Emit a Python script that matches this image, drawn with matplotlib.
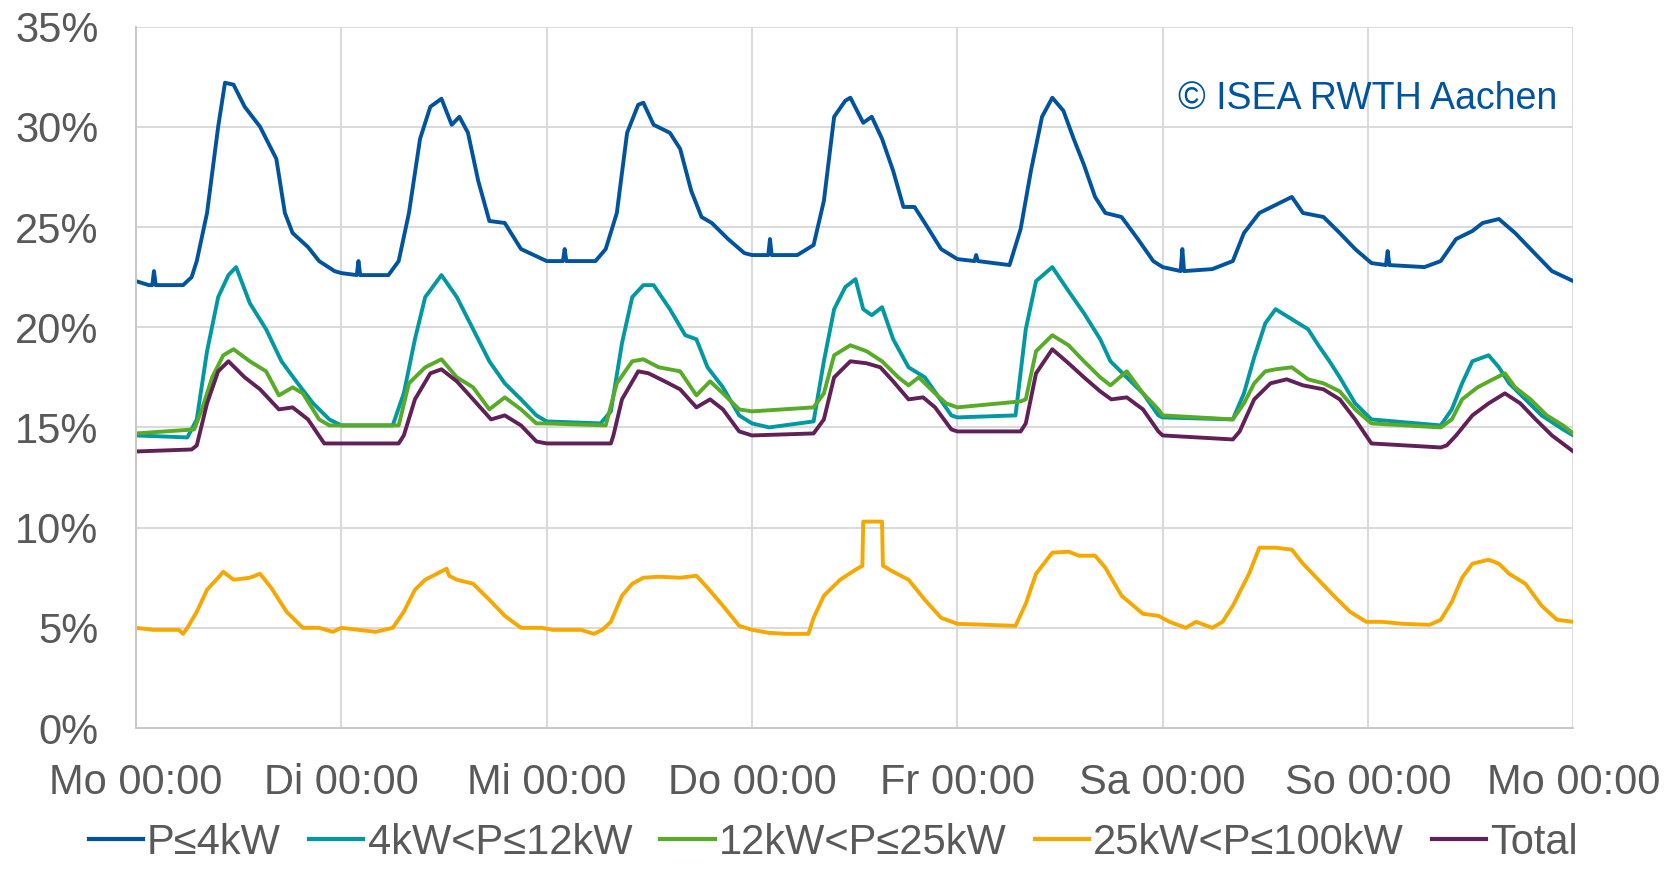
import matplotlib
matplotlib.use('Agg')
import matplotlib.pyplot as plt
import matplotlib.ticker as tick

plt.rcParams['font.family'] = ['Liberation Sans', 'DejaVu Sans']

color_blue = '#00549f'
color_teal = '#0098a1'
color_green = '#57ab27'
color_orange = '#f6a800'
color_purple = '#612158'
color_text = '#595959'
color_grid = '#d9d9d9'

day_labels = ['Mo 00:00', 'Di 00:00', 'Mi 00:00', 'Do 00:00', 'Fr 00:00', 'Sa 00:00', 'So 00:00', 'Mo 00:00']
series_names = ['P≤4kW', '4kW<P≤12kW', '12kW<P≤25kW', '25kW<P≤100kW', 'Total']

# hours since Monday 00:00, share in percent
p4_hours = [0, 1.5, 1.9, 2.1, 2.3, 5.5, 6.5, 7.1, 8.3, 9.6, 10.4, 11.4, 12.7, 14.5, 16.4, 17.4, 18.3, 20.1, 21.4, 23.2, 24,
            25.8, 26.0, 26.2, 29.5, 30.7, 31.9, 33.2, 34.4, 35.7, 36.9, 37.8, 38.8, 40.0, 41.3, 43.1, 45.0, 47.5, 48,
            49.9, 50.1, 50.3, 53.7, 54.9, 56.2, 57.4, 58.7, 59.3, 60.5, 62.4, 63.6, 64.9, 66.1, 67.3, 69.2, 71.1, 72,
            73.9, 74.1, 74.3, 77.3, 79.2, 80.4, 81.6, 82.9, 83.5, 85.0, 86.0, 87.2, 88.5, 89.7, 91.0, 92.2, 94.1, 96,
            98.0, 98.2, 98.4, 102.1, 103.4, 104.6, 105.9, 107.1, 108.4, 109.6, 110.8, 112.1, 113.3, 115.2, 117.1, 118.9, 120,
            122.1, 122.3, 122.5, 125.8, 128.2, 129.5, 131.3, 133.2, 135.1, 136.4, 138.8, 140.7, 142.5, 144.4,
            146.1, 146.3, 146.5, 150.6, 152.5, 154.3, 156.2, 157.4, 159.3, 161.2, 163.0, 165.5, 168]
p4_values = [22.3, 22.1, 22.1, 22.8, 22.1, 22.1, 22.5, 23.3, 25.7, 30.0, 32.2, 32.1, 31.0, 30.0, 28.4, 25.7, 24.7, 24.0, 23.3, 22.8, 22.7,
             22.6, 23.3, 22.6, 22.6, 23.3, 25.7, 29.4, 31.0, 31.4, 30.1, 30.5, 29.7, 27.3, 25.3, 25.2, 23.9, 23.4, 23.3,
             23.3, 23.9, 23.3, 23.3, 23.9, 25.7, 29.7, 31.1, 31.2, 30.1, 29.7, 28.9, 26.8, 25.5, 25.2, 24.4, 23.7, 23.6,
             23.6, 24.4, 23.6, 23.6, 24.1, 26.3, 30.5, 31.3, 31.45, 30.2, 30.5, 29.4, 27.8, 26.0, 26.0, 25.2, 23.9, 23.4,
             23.3, 23.6, 23.3, 23.1, 24.9, 27.8, 30.5, 31.45, 30.8, 29.4, 28.1, 26.5, 25.7, 25.5, 24.4, 23.3, 23.0,
             22.8, 23.9, 22.8, 22.9, 23.3, 24.7, 25.7, 26.1, 26.5, 25.7, 25.5, 24.7, 23.9, 23.2,
             23.1, 23.8, 23.1, 23.0, 23.3, 24.4, 24.8, 25.2, 25.4, 24.7, 23.9, 22.8, 22.3]

p12_hours = [0, 6, 7.1, 8.3, 9.6, 10.8, 11.7, 13.3, 15.2, 17, 18.9, 20.7, 22.6, 24,
             30, 31.3, 32.6, 33.8, 35.7, 37.5, 39.4, 41.3, 43.1, 45, 46.8, 48,
             54.3, 55.5, 56.8, 58, 59.3, 60.5, 62.4, 64.2, 65.5, 66.8, 68.6, 70.5, 72,
             74, 79.2, 80.4, 81.6, 82.9, 84.1, 85, 86, 87.2, 88.5, 90.3, 92.2, 94, 95.3, 96,
             102.8, 104, 105.2, 107.1, 109, 110.8, 112.7, 113.9, 115.8, 117.7, 119.5, 120,
             128.2, 129.5, 130.7, 132, 133.2, 135.1, 137, 138.2, 139.5, 140.7, 142.5, 144.4,
             152.5, 153.8, 155, 156.2, 158.1, 159.3, 160.5, 162.4, 164.3, 166.8, 168]
p12_values = [14.6, 14.5, 15.4, 18.8, 21.5, 22.6, 23.0, 21.2, 19.9, 18.3, 17.2, 16.2, 15.4, 15.1,
              15.1, 16.7, 19.4, 21.5, 22.6, 21.5, 19.9, 18.3, 17.2, 16.4, 15.6, 15.3,
              15.2, 15.8, 19.2, 21.5, 22.1, 22.1, 20.9, 19.6, 19.4, 18.0, 17.0, 15.6, 15.2,
              15.0, 15.3, 18.3, 20.9, 22.0, 22.4, 20.9, 20.6, 21.0, 19.4, 18.0, 17.5, 16.4, 15.6, 15.5,
              15.6, 19.9, 22.3, 23.0, 21.8, 20.7, 19.4, 18.3, 17.5, 16.7, 15.6, 15.5,
              15.4, 16.7, 18.5, 20.2, 20.9, 20.4, 19.9, 19.1, 18.3, 17.5, 16.2, 15.4,
              15.1, 15.9, 17.2, 18.3, 18.6, 18.0, 17.2, 16.4, 15.6, 14.9, 14.6]

p25_hours = [0, 6.8, 7.7, 8.9, 10.2, 11.4, 13.3, 15.2, 16.7, 18.3, 19.5, 21.4, 22.6, 24,
             30.7, 31.9, 33.8, 35.7, 37.5, 39.4, 41.3, 43.1, 45, 46.8, 48,
             54.9, 56.2, 58, 59.3, 61.1, 63.6, 65.5, 67.1, 68.6, 70.5, 72,
             79.2, 80.4, 81.6, 83.5, 85.4, 87.2, 89.1, 90.3, 91.5, 93.4, 94.7, 96,
             103.4, 104, 105.2, 107.1, 109, 110.8, 112.7, 113.9, 115.8, 117.7, 119.5, 120,
             128.2, 129.5, 130.7, 132, 133.2, 135.1, 137, 138.8, 140.7, 142.5, 144.4,
             152.5, 153.8, 155, 156.8, 158.6, 160, 161.2, 163, 164.9, 166.8, 168]
p25_values = [14.7, 14.9, 15.9, 17.5, 18.6, 18.9, 18.3, 17.8, 16.6, 17.0, 16.7, 15.4, 15.1, 15.1,
              15.1, 17.2, 18.0, 18.4, 17.5, 17.0, 15.9, 16.5, 15.9, 15.2, 15.2,
              15.1, 17.2, 18.3, 18.4, 18.0, 17.8, 16.6, 17.3, 16.7, 15.9, 15.8,
              16.0, 16.7, 18.6, 19.1, 18.8, 18.3, 17.5, 17.1, 17.5, 16.7, 16.2, 16.0,
              16.3, 16.4, 18.8, 19.6, 19.1, 18.3, 17.5, 17.1, 17.8, 16.7, 15.9, 15.6,
              15.4, 16.2, 17.2, 17.8, 17.9, 18.0, 17.4, 17.2, 16.8, 15.9, 15.2,
              15.0, 15.4, 16.4, 17.0, 17.4, 17.7, 17.0, 16.4, 15.6, 15.1, 14.7]

p100_hours = [0, 2, 5, 5.5, 6, 7.1, 8.3, 9.6, 10.2, 11.4, 13.3, 14.5, 15.8, 17.6, 19.5, 21.4, 23, 24,
              26, 28, 30, 31.3, 32.6, 33.8, 36.3, 36.6, 37.5, 39.4, 41.3, 43.1, 45, 47.5, 48.7,
              50, 52, 53.5, 54.5, 55.5, 56.8, 58, 59.3, 61.1, 63.6, 65.5, 66.8, 68.6, 70.5, 72,
              74, 76, 78.6, 79.2, 80.4, 82.3, 84.1, 84.9, 85.0, 86.0, 87.2, 87.3, 88.5, 90.3, 92.2, 94.1, 96,
              102.8, 104, 105.2, 107.1, 109, 110.2, 112.1, 113.3, 115.2, 117.7, 119.5, 120.8, 122.7, 123.9, 125.8, 127,
              128.2, 130.1, 131.3, 133.2, 135.1, 136.4, 138.2, 140, 141.9, 143.8, 145.6, 148.1, 151.2,
              152.5, 153.8, 155, 156.2, 158.1, 159.3, 160.5, 162.4, 164.3, 166.1, 168]
p100_values = [5.0, 4.9, 4.9, 4.7, 5.0, 5.8, 6.9, 7.5, 7.8, 7.4, 7.5, 7.7, 7.0, 5.8, 5.0, 5.0, 4.8, 5.0,
               4.9, 4.8, 5.0, 5.8, 6.9, 7.4, 7.95, 7.6, 7.4, 7.2, 6.4, 5.6, 5.0, 5.0, 4.9,
               4.9, 4.9, 4.7, 4.9, 5.3, 6.6, 7.2, 7.5, 7.55, 7.5, 7.6, 7.0, 6.1, 5.1, 4.9,
               4.75, 4.7, 4.7, 5.5, 6.6, 7.4, 7.9, 8.1, 10.3, 10.3, 10.3, 8.1, 7.8, 7.4, 6.4, 5.5, 5.2,
               5.1, 6.2, 7.7, 8.75, 8.8, 8.6, 8.6, 8.0, 6.6, 5.7, 5.6, 5.3, 5.0, 5.3, 5.0, 5.3,
               6.1, 7.7, 9.0, 9.0, 8.9, 8.2, 7.4, 6.6, 5.8, 5.3, 5.3, 5.2, 5.15,
               5.4, 6.3, 7.5, 8.2, 8.4, 8.2, 7.7, 7.2, 6.1, 5.4, 5.3]

total_hours = [0, 6.5, 7.1, 8.3, 9.6, 10.8, 12.7, 14.5, 16.7, 18.3, 20.1, 22, 24,
               30.7, 31.3, 32.6, 34.4, 35.7, 37.5, 39.4, 41.5, 43.1, 45, 46.8, 48,
               55.5, 55.8, 56.8, 58.7, 59.9, 61.8, 63.6, 65.5, 67.1, 68.6, 70.5, 72,
               79.2, 80.4, 81.6, 83.5, 85.4, 87, 88.5, 90.3, 92, 93.4, 95.3, 96,
               103.4, 104, 105.2, 107.1, 109, 110.8, 112.7, 114, 115.8, 117.7, 119.5, 120,
               128.2, 129, 130.7, 132.6, 134.5, 136.4, 138.8, 140.7, 142.5, 144.4,
               152.5, 153.2, 154.3, 156.2, 158.1, 160, 161.8, 163.6, 165.5, 168]
total_values = [13.8, 13.9, 14.1, 16.2, 17.8, 18.3, 17.5, 16.9, 15.9, 16.0, 15.4, 14.2, 14.2,
                14.2, 14.6, 16.4, 17.7, 17.9, 17.3, 16.4, 15.4, 15.6, 15.1, 14.3, 14.2,
                14.2, 14.6, 16.4, 17.8, 17.7, 17.3, 16.9, 16.0, 16.4, 15.9, 14.8, 14.6,
                14.7, 15.4, 17.5, 18.3, 18.2, 18.0, 17.3, 16.4, 16.5, 16.0, 14.9, 14.8,
                14.8, 15.2, 17.7, 18.9, 18.2, 17.5, 16.8, 16.4, 16.5, 15.9, 14.8, 14.6,
                14.4, 14.8, 16.4, 17.2, 17.4, 17.1, 16.9, 16.4, 15.4, 14.2,
                14.0, 14.1, 14.6, 15.6, 16.2, 16.7, 16.2, 15.4, 14.6, 13.8]

fig = plt.figure(figsize=(16.67, 8.69), dpi=100)
ax = fig.add_axes([0.0816, 0.1622, 0.8622, 0.8072])

lw = 2.8
ax.plot(p4_hours, p4_values, color=color_blue, lw=lw, label=series_names[0])
ax.plot(p12_hours, p12_values, color=color_teal, lw=lw, label=series_names[1])
ax.plot(p25_hours, p25_values, color=color_green, lw=lw, label=series_names[2])
ax.plot(p100_hours, p100_values, color=color_orange, lw=lw, label=series_names[3])
ax.plot(total_hours, total_values, color=color_purple, lw=lw, label=series_names[4])

ax.set_xlim(0, 168)
ax.set_ylim(0, 35)
ax.set_xticks(range(0, 169, 24))
ax.set_xticklabels(day_labels)
ax.set_yticks(range(0, 36, 5))
ax.yaxis.set_major_formatter(tick.FuncFormatter(lambda v, pos: '{:.0f}%'.format(v)))
ax.grid(True, color=color_grid, lw=1.4)
ax.set_axisbelow(True)
for side in ['top', 'right']:
    ax.spines[side].set_visible(False)
for side in ['left', 'bottom']:
    ax.spines[side].set_color('#c8c8c8')
    ax.spines[side].set_linewidth(1.4)
ax.tick_params(axis='both', length=0, labelsize=30, labelcolor=color_text)
ax.tick_params(axis='x', pad=25)
ax.tick_params(axis='y', pad=27)

ax.text(0.989, 0.897, '© ISEA RWTH Aachen', transform=ax.transAxes, ha='right', va='center',
        fontsize=27, color=color_blue)

fig.legend(loc='lower center', bbox_to_anchor=(0.5, -0.012), ncol=5, frameon=False,
           fontsize=30, labelcolor=color_text, handlelength=1.3, handletextpad=0.1,
           columnspacing=0.68, borderaxespad=0.0)
for line in fig.legends[0].get_lines():
    line.set_linewidth(3)

fig.savefig('out.png', dpi=100)
